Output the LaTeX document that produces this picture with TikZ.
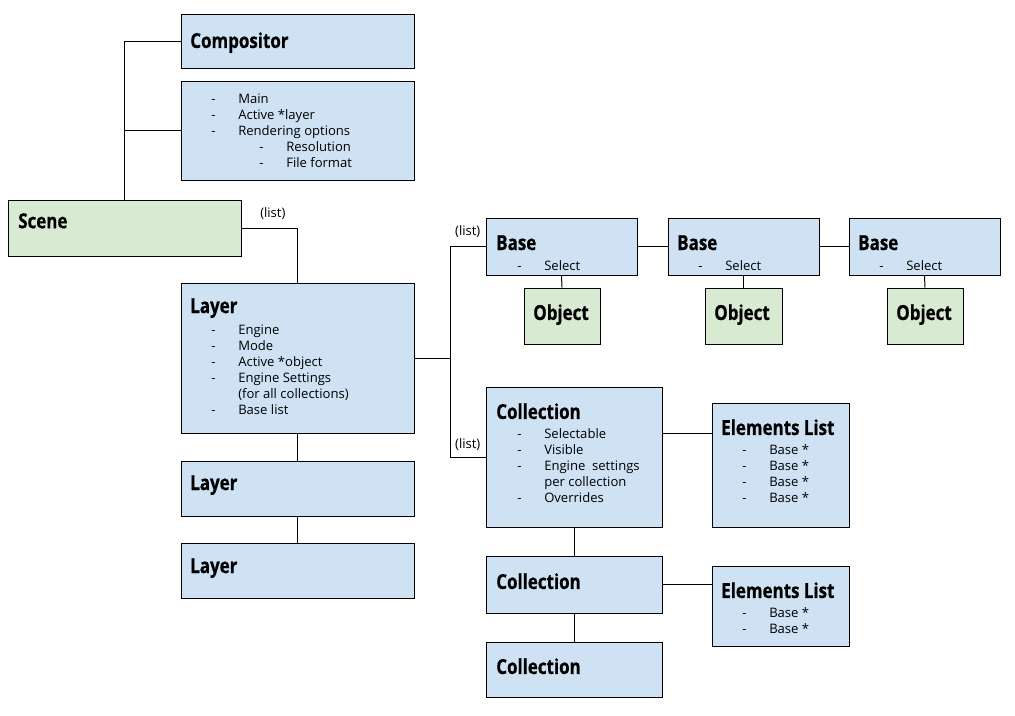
\documentclass[tikz,border=0pt]{standalone}
\usepackage{fontspec}
\setmainfont{Open Sans}
\newfontfamily\ttlfont[FakeStretch=0.82,FakeBold=0.6]{Open Sans}
\usetikzlibrary{fit}

\definecolor{boxblue}{HTML}{CFE2F3}
\definecolor{boxgreen}{HTML}{D9EAD3}

\newcommand{\ttl}[1]{{\ttlfont\bfseries\fontsize{15.5}{18}\selectfont #1}}
\newcommand{\itm}[1]{\hspace*{15.75pt}\makebox[20.25pt][l]{-}#1}
\newcommand{\subitm}[1]{\hspace*{51.75pt}\makebox[20.25pt][l]{-}#1}
\newcommand{\cont}[1]{\hspace*{36pt}#1}

\begin{document}
\begin{tikzpicture}[
    x=0.75pt, y=-0.75pt,
    box/.style={draw, fill=boxblue, line width=0.75pt, inner sep=0pt},
    objbox/.style={box, fill=boxgreen},
    txt/.style={anchor=north west, align=left, inner sep=0pt, font=\fontsize{9.8}{12}\selectfont},
    lbl/.style={inner sep=0pt, font=\fontsize{9.8}{12}\selectfont},
    link/.style={line width=0.75pt},
]
\useasboundingbox (0,0) rectangle (1015,715);

% boxes
\node[box, fit={(181,14) (414,68)}] (comp) {};
\node[box, fit={(181,81) (414,180)}] (compdet) {};
\node[objbox, fit={(8,200) (241,256)}] (scene) {};
\node[box, fit={(181,283) (414,433)}] (layerA) {};
\node[box, fit={(181,461) (414,516)}] (layerB) {};
\node[box, fit={(181,543) (414,598)}] (layerC) {};
\node[box, fit={(486,218) (637,275)}] (baseA) {};
\node[box, fit={(668,218) (819,275)}] (baseB) {};
\node[box, fit={(849,218) (1000,275)}] (baseC) {};
\node[objbox, fit={(524,288) (600,344)}] (objA) {};
\node[objbox, fit={(705,288) (782,344)}] (objB) {};
\node[objbox, fit={(887,288) (963,344)}] (objC) {};
\node[box, fit={(486,387) (662,527)}] (collA) {};
\node[box, fit={(486,556) (662,613)}] (collB) {};
\node[box, fit={(486,642) (662,697)}] (collC) {};
\node[box, fit={(712,403) (849,527)}] (elemA) {};
\node[box, fit={(712,566) (849,646)}] (elemB) {};

% texts
\node[txt] (compT) at (190,32) {\ttl{Compositor}};
\node[txt] (compdetT) at (190,94) {\itm{Main}\\ \itm{Active *layer}\\ \itm{Rendering options}\\
    \subitm{Resolution}\\ \subitm{File format}};
\node[txt] (sceneT) at (18,213) {\ttl{Scene}};
\node[txt] (layerAT) at (190,298) {\ttl{Layer}\\[3.75pt] \itm{Engine}\\ \itm{Mode}\\ \itm{Active *object}\\
    \itm{Engine Settings}\\ \cont{(for all collections)}\\ \itm{Base list}};
\node[txt] (layerBT) at (190,475) {\ttl{Layer}};
\node[txt] (layerCT) at (190,558) {\ttl{Layer}};
\node[txt] (baseAT) at (496,235) {\ttl{Base}\\[3pt] \itm{Select}};
\node[txt] (baseBT) at (677,235) {\ttl{Base}\\[3pt] \itm{Select}};
\node[txt] (baseCT) at (858,235) {\ttl{Base}\\[3pt] \itm{Select}};
\node[txt] (objAT) at (533,304) {\ttl{Object}};
\node[txt] (objBT) at (714,304) {\ttl{Object}};
\node[txt] (objCT) at (896,304) {\ttl{Object}};
\node[txt] (collAT) at (496,403) {\ttl{Collection}\\[3pt] \itm{Selectable}\\ \itm{Visible}\\
    \itm{Engine~~settings}\\ \cont{per collection}\\ \itm{Overrides}};
\node[txt] (collBT) at (496,573) {\ttl{Collection}};
\node[txt] (collCT) at (496,658) {\ttl{Collection}};
\node[txt] (elemAT) at (721,419) {\ttl{Elements List}\\[3pt] \itm{Base *}\\ \itm{Base *}\\ \itm{Base *}\\ \itm{Base *}};
\node[txt] (elemBT) at (721,582) {\ttl{Elements List}\\[3pt] \itm{Base *}\\ \itm{Base *}};

% connectors
\coordinate (split) at (450,358);
\draw[link] (scene.north) |- (comp.west);
\draw[link] (scene.north) |- (compdet.west);
\draw[link] (scene.east) -| node[lbl, pos=0.28, above=6pt] (lstA) {(list)} (layerA.north);
\draw[link] (layerA.south) -- (layerB.north);
\draw[link] (layerB.south) -- (layerC.north);
\draw[link] (layerA.east) -- (split);
\draw[link] (split) |- node[lbl, pos=0.75, above=6pt] (lstB) {(list)} (baseA.west);
\draw[link] (split) |- node[lbl, pos=0.75, above=4.5pt] (lstC) {(list)} (collA.west);
\draw[link] (baseA.east) -- (baseB.west);
\draw[link] (baseB.east) -- (baseC.west);
\draw[link] (baseA.south) -- (objA.north);
\draw[link] (baseB.south) -- (objB.north);
\draw[link] (baseC.south) -- (objC.north);
\draw[link] (collA.east |- 0,433) -- (elemA.west |- 0,433);
\draw[link] (collB.east) -- (collB.east -| elemB.west);
\draw[link] (collA.south) -- (collB.north);
\draw[link] (collB.south) -- (collC.north);

\end{tikzpicture}
\end{document}
